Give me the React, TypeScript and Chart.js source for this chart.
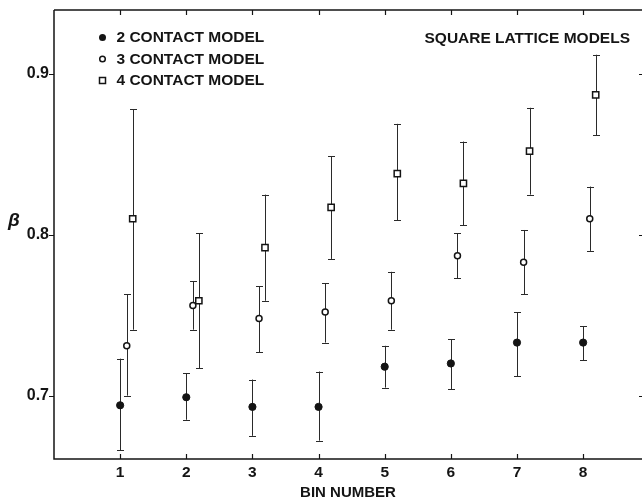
import React, { useEffect, useRef } from "react";
import { Chart, registerables } from "chart.js";
Chart.register(...registerables);

const bins = [1, 2, 3, 4, 5, 6, 7, 8];
const xTicks = [1, 2, 3, 4, 5, 6, 7, 8];
const yTicks = [0.7, 0.8, 0.9];

const twoContact = [0.694, 0.699, 0.693, 0.693, 0.718, 0.72, 0.733, 0.733];
const twoContactHi = [0.723, 0.714, 0.71, 0.715, 0.731, 0.735, 0.752, 0.743];
const twoContactLo = [0.666, 0.685, 0.675, 0.672, 0.705, 0.704, 0.712, 0.722];

const threeContact = [0.731, 0.756, 0.748, 0.752, 0.759, 0.787, 0.783, 0.81];
const threeContactHi = [0.763, 0.771, 0.768, 0.77, 0.777, 0.801, 0.803, 0.83];
const threeContactLo = [0.7, 0.741, 0.727, 0.733, 0.741, 0.773, 0.763, 0.79];

const fourContact = [0.81, 0.759, 0.792, 0.817, 0.838, 0.832, 0.852, 0.887];
const fourContactHi = [0.878, 0.801, 0.825, 0.849, 0.869, 0.858, 0.879, 0.912];
const fourContactLo = [0.741, 0.717, 0.759, 0.785, 0.809, 0.806, 0.825, 0.862];

const legendLabels = ["2 CONTACT MODEL", "3 CONTACT MODEL", "4 CONTACT MODEL"];
const annotation = "SQUARE LATTICE MODELS";
const xTitle = "BIN NUMBER";
const yTitle = "β";

const INK = "#141414";
const FONT = "'Liberation Sans', Arial, sans-serif";

const bgPlugin = {
  id: "bg",
  beforeDraw(chart: any) {
    const ctx = chart.ctx;
    ctx.save();
    ctx.fillStyle = "#fff";
    ctx.fillRect(0, 0, chart.width, chart.height);
    ctx.restore();
  },
};

const errorBarPlugin = {
  id: "errorBars",
  beforeDatasetsDraw(chart: any) {
    const ctx = chart.ctx;
    const ys = chart.scales.y;
    ctx.save();
    ctx.strokeStyle = "#2a2a2a";
    ctx.lineWidth = 1;
    chart.data.datasets.forEach((ds: any, di: number) => {
      const meta = chart.getDatasetMeta(di);
      meta.data.forEach((pt: any, i: number) => {
        const x = Math.round(pt.x) + 0.5;
        const yh = ys.getPixelForValue(ds.hi[i]);
        const yl = ys.getPixelForValue(ds.lo[i]);
        ctx.beginPath();
        ctx.moveTo(x, yh);
        ctx.lineTo(x, yl);
        ctx.moveTo(x - 3.5, Math.round(yh) + 0.5);
        ctx.lineTo(x + 3.5, Math.round(yh) + 0.5);
        ctx.moveTo(x - 3.5, Math.round(yl) + 0.5);
        ctx.lineTo(x + 3.5, Math.round(yl) + 0.5);
        ctx.stroke();
      });
    });
    ctx.restore();
  },
};

const framePlugin = {
  id: "frame",
  afterDraw(chart: any) {
    const ctx = chart.ctx;
    const { left, right, top, bottom } = chart.chartArea;
    const xs = chart.scales.x;
    const ys = chart.scales.y;
    ctx.save();
    ctx.strokeStyle = INK;
    ctx.lineWidth = 1.5;
    ctx.beginPath();
    ctx.moveTo(left, top);
    ctx.lineTo(right, top);
    ctx.moveTo(left, top);
    ctx.lineTo(left, bottom);
    ctx.lineTo(right, bottom);
    ctx.stroke();
    ctx.lineWidth = 1.2;
    ctx.beginPath();
    xTicks.forEach((v) => {
      const x = Math.round(xs.getPixelForValue(v)) + 0.5;
      ctx.moveTo(x, bottom);
      ctx.lineTo(x, bottom - 5);
      ctx.moveTo(x, top);
      ctx.lineTo(x, top + 5);
    });
    yTicks.forEach((v) => {
      const y = Math.round(ys.getPixelForValue(v)) + 0.5;
      ctx.moveTo(left, y);
      ctx.lineTo(left - 5, y);
      ctx.moveTo(right, y);
      ctx.lineTo(right - 3, y);
    });
    ctx.stroke();

    // legend
    ctx.fillStyle = INK;
    ctx.font = `bold 15.5px ${FONT}`;
    ctx.textBaseline = "middle";
    ctx.textAlign = "left";
    const rows = [37.5, 59, 80.5];
    const mx = 102.5;
    legendLabels.forEach((label, i) => {
      const y = rows[i];
      ctx.lineWidth = 1.5;
      ctx.strokeStyle = INK;
      if (i === 0) {
        ctx.beginPath();
        ctx.arc(mx, y, 3.5, 0, Math.PI * 2);
        ctx.fill();
      } else if (i === 1) {
        ctx.beginPath();
        ctx.arc(mx, y, 2.8, 0, Math.PI * 2);
        ctx.stroke();
      } else {
        ctx.strokeRect(mx - 3, y - 3, 6, 6);
      }
      ctx.fillText(label, 116.5, y + 0.5);
    });

    ctx.textAlign = "right";
    ctx.fillText(annotation, 630, 38.5);

    ctx.textAlign = "left";
    ctx.font = `italic bold 19px ${FONT}`;
    ctx.fillText(yTitle, 8, 221);
    ctx.restore();
  },
};

export default function App() {
  const ref = useRef<HTMLCanvasElement>(null);
  useEffect(() => {
    document.body.style.margin = "0";
    const canvas = ref.current;
    if (!canvas) return;
    const mk = (vals: number[], off: number) => bins.map((b, i) => ({ x: b + off, y: vals[i] }));
    const chart = new Chart(canvas, {
      type: "scatter",
      data: {
        datasets: [
          {
            label: legendLabels[0],
            data: mk(twoContact, 0),
            hi: twoContactHi,
            lo: twoContactLo,
            pointStyle: "circle",
            pointRadius: 3.6,
            backgroundColor: INK,
            borderColor: INK,
            borderWidth: 1,
          } as any,
          {
            label: legendLabels[1],
            data: mk(threeContact, 0.1),
            hi: threeContactHi,
            lo: threeContactLo,
            pointStyle: "circle",
            pointRadius: 3,
            backgroundColor: "#fff",
            borderColor: INK,
            borderWidth: 1.5,
          } as any,
          {
            label: legendLabels[2],
            data: mk(fourContact, 0.19),
            hi: fourContactHi,
            lo: fourContactLo,
            pointStyle: "rect",
            pointRadius: 4.4,
            backgroundColor: "#fff",
            borderColor: INK,
            borderWidth: 1.5,
          } as any,
        ],
      },
      options: {
        animation: false,
        responsive: false,
        devicePixelRatio: 1,
        layout: { autoPadding: false, padding: { top: 10, right: 0, left: 0, bottom: 0 } },
        plugins: { legend: { display: false }, tooltip: { enabled: false } },
        scales: {
          x: {
            type: "linear",
            min: 0,
            max: 8.89,
            grid: { display: false, drawTicks: false },
            border: { display: false },
            afterBuildTicks: (s: any) => {
              s.ticks = xTicks.map((v) => ({ value: v }));
            },
            afterFit: (s: any) => {
              s.height = 41;
              s.paddingLeft = 0;
              s.paddingRight = 0;
              s.paddingTop = 0;
              s.paddingBottom = 0;
            },
            ticks: {
              autoSkip: false,
              maxRotation: 0,
              padding: 4,
              color: INK,
              font: { family: FONT, size: 15.5, weight: "bold" },
              callback: (v: any) => String(v),
            },
            title: {
              display: true,
              text: xTitle,
              color: INK,
              padding: 0,
              font: { family: FONT, size: 15, weight: "bold", lineHeight: 1 },
            },
          },
          y: {
            type: "linear",
            min: 0.6606,
            max: 0.9398,
            grid: { display: false, drawTicks: false },
            border: { display: false },
            afterBuildTicks: (s: any) => {
              s.ticks = yTicks.map((v) => ({ value: v }));
            },
            afterFit: (s: any) => {
              s.width = 54;
              s.paddingLeft = 0;
              s.paddingRight = 0;
              s.paddingTop = 0;
              s.paddingBottom = 0;
            },
            ticks: {
              padding: 5,
              color: INK,
              font: { family: FONT, size: 16, weight: "bold" },
              callback: (v: any) => Number(v).toFixed(1),
            },
          },
        },
      },
      plugins: [bgPlugin, errorBarPlugin, framePlugin],
    } as any);
    return () => chart.destroy();
  }, []);
  return (
    <div style={{ position: "absolute", left: 0, top: 0, width: 642, height: 500 }}>
      <canvas ref={ref} width={642} height={500} />
    </div>
  );
}
